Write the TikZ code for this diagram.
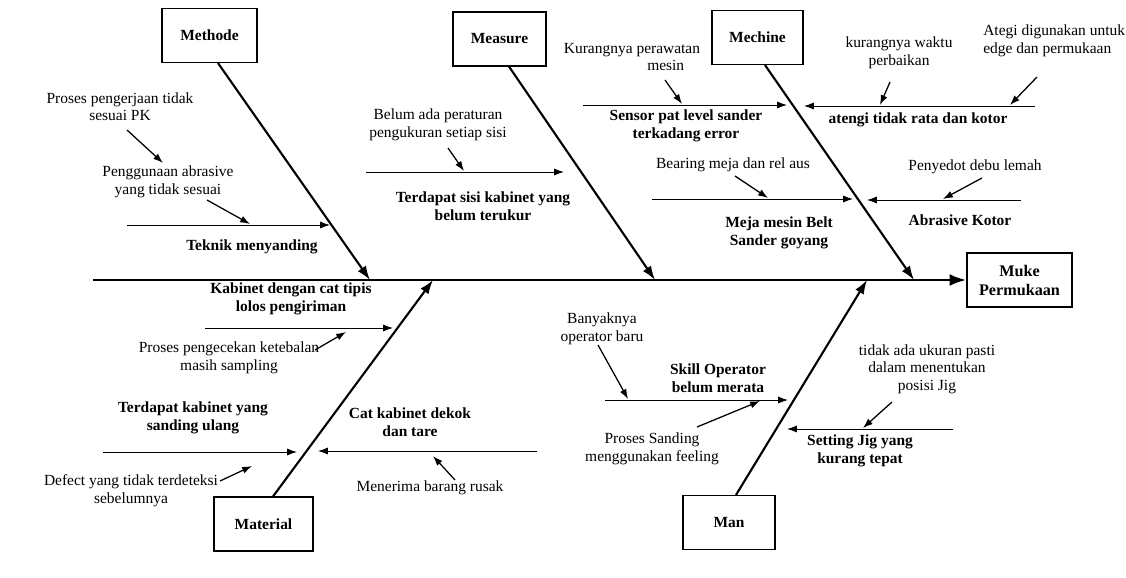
\documentclass[tikz,border=0pt]{standalone}
\usepackage{fontspec}
\setmainfont{Liberation Serif}
\usetikzlibrary{arrows.meta,calc}
\begin{document}
\begin{tikzpicture}[x=0.025cm,y=-0.025cm,
  box/.style={draw,line width=0.8pt,minimum width=#1,minimum height=1.35cm,
    font=\fontsize{11}{13}\selectfont\bfseries,align=center,inner sep=1pt},
  spine/.style={line width=2pt,-{Latex[length=12pt,width=8.5pt]}},
  bone/.style={line width=1.5pt,-{Latex[length=10pt,width=7pt]}},
  sub/.style={line width=0.7pt,-{Latex[length=7pt,width=5pt]}},
  cause/.style={line width=0.9pt,-{Latex[length=7pt,width=5pt]}},
  lbl/.style={font=\fontsize{11}{12.5}\selectfont,align=center,inner sep=0pt},
  blbl/.style={font=\fontsize{11}{12.5}\selectfont\bfseries,align=center,inner sep=0pt}]
\useasboundingbox (0,0) rectangle (1126,578);
\fill[white] (0,0) rectangle (1126,578);

% category boxes
\node[box=2.375cm] (methode) at (209.5,35.5) {Methode};
\node[box=2.325cm] (measure) at (499.5,39) {Measure};
\node[box=2.275cm] (mechine) at (757.5,37.5) {Mechine};
\node[box=2.475cm] (material) at (263.5,524) {Material};
\node[box=2.3cm] (man) at (729,522.5) {Man};
\node[box=2.625cm,font=\fontsize{11.5}{13.5}\selectfont\bfseries] (muke) at (1019.5,280) {Muke\\Permukaan};

% spine and joins
\coordinate (tail) at (93,280);
\coordinate (jMt) at (370,280);
\coordinate (jMs) at (655,280);
\coordinate (jMc) at (914,280);
\coordinate (jMa) at (433,280);
\coordinate (jMn) at (867,280);
\draw[spine] (tail) -- (muke.west);

% main bones
\draw[bone] ([xshift=0.2125cm]methode.south) -- (jMt);
\draw[bone] ([xshift=0.2375cm]measure.south) -- (jMs);
\draw[bone] ([xshift=0.1875cm]mechine.south) -- (jMc);
\draw[bone] ([xshift=0.2375cm]material.north) -- (jMa);
\draw[bone] ([xshift=0.175cm]man.north) -- (jMn);

% ---------- Methode ----------
\node[lbl] (t1) at (120,106.5) {Proses pengerjaan tidak\\sesuai PK};
\node[lbl] (t2) at (168,182) {Penggunaan abrasive\\yang tidak sesuai};
\node[blbl] (t3) at (252,247) {Teknik menyanding};
\coordinate (s1a) at (127,225); \coordinate (s1b) at (330,225);
\draw[sub] (s1a) -- (s1b);
\coordinate (c1a) at (127,130); \coordinate (c1b) at (163,163);
\draw[cause] (c1a) -- (c1b);
\coordinate (c2a) at (207,200); \coordinate (c2b) at (250,224);
\draw[cause] (c2a) -- (c2b);

% ---------- Measure ----------
\node[lbl] (t4) at (438,125) {Belum ada peraturan\\pengukuran setiap sisi};
\node[blbl] (t5) at (483,206) {Terdapat sisi kabinet yang\\belum terukur};
\coordinate (s2a) at (366,172); \coordinate (s2b) at (564,172);
\draw[sub] (s2a) -- (s2b);
\coordinate (c3a) at (448,148); \coordinate (c3b) at (464,171);
\draw[cause] (c3a) -- (c3b);

% ---------- Mechine ----------
\node[lbl] (t6) at (632,57) {Kurangnya perawatan\\\hspace*{48pt}mesin};
\node[blbl] (t7) at (686,126) {Sensor pat level sander\\terkadang error};
\node[lbl,align=left,anchor=west] (t8) at (983,41) {Ategi digunakan untuk\\edge dan permukaan};
\node[lbl] (t9) at (899,53) {kurangnya waktu\\perbaikan};
\node[blbl] (t10) at (918,120) {atengi tidak rata dan kotor};
\node[lbl] (t11) at (733,165) {Bearing meja dan rel aus};
\node[blbl] (t12) at (779,233) {Meja mesin Belt\\Sander goyang};
\node[lbl] (t13) at (975,167) {Penyedot debu lemah};
\node[blbl] (t14) at (960,220) {Abrasive Kotor};
\coordinate (s3a) at (583,105); \coordinate (s3b) at (787,105);
\draw[sub] (s3a) -- (s3b);
\coordinate (s4a) at (1035,106); \coordinate (s4b) at (804,106);
\draw[sub] (s4a) -- (s4b);
\coordinate (s5a) at (652,199); \coordinate (s5b) at (853,199);
\draw[sub] (s5a) -- (s5b);
\coordinate (s6a) at (1021,200); \coordinate (s6b) at (867,200);
\draw[sub] (s6a) -- (s6b);
\coordinate (c4a) at (665,80); \coordinate (c4b) at (682,104);
\draw[cause] (c4a) -- (c4b);
\coordinate (c5a) at (1037,77); \coordinate (c5b) at (1010,105);
\draw[cause] (c5a) -- (c5b);
\coordinate (c6a) at (890,82); \coordinate (c6b) at (880,105);
\draw[cause] (c6a) -- (c6b);
\coordinate (c7a) at (735,176); \coordinate (c7b) at (768,198);
\draw[cause] (c7a) -- (c7b);
\coordinate (c8a) at (982,178); \coordinate (c8b) at (943,199);
\draw[cause] (c8a) -- (c8b);

% ---------- Material ----------
\node[blbl] (t15) at (291,299) {Kabinet dengan cat tipis\\lolos pengiriman};
\node[lbl] (t16) at (229,358) {Proses pengecekan ketebalan\\masih sampling};
\node[blbl] (t17) at (193,418) {Terdapat kabinet yang\\sanding ulang};
\node[lbl] (t18) at (131,491) {Defect yang tidak terdeteksi\\sebelumnya};
\node[blbl] (t19) at (410,422) {Cat kabinet dekok\\dan tare};
\node[lbl] (t20) at (430,488) {Menerima barang rusak};
\coordinate (s7a) at (205,328); \coordinate (s7b) at (393,328);
\draw[sub] (s7a) -- (s7b);
\coordinate (s8a) at (103,452); \coordinate (s8b) at (297,452);
\draw[sub] (s8a) -- (s8b);
\coordinate (s9a) at (537,451); \coordinate (s9b) at (318,451);
\draw[sub] (s9a) -- (s9b);
\coordinate (c9a) at (315,350); \coordinate (c9b) at (346,332);
\draw[cause] (c9a) -- (c9b);
\coordinate (c10a) at (220,481); \coordinate (c10b) at (252,466);
\draw[cause] (c10a) -- (c10b);
\coordinate (c11a) at (455,480); \coordinate (c11b) at (433,456);
\draw[cause] (c11a) -- (c11b);

% ---------- Man ----------
\node[lbl] (t21) at (602,329) {Banyaknya\\operator baru};
\node[blbl] (t22) at (718,378) {Skill Operator\\belum merata};
\node[lbl] (t23) at (652,449) {Proses Sanding\\menggunakan feeling};
\node[lbl] (t24) at (927,369) {tidak ada ukuran pasti\\dalam menentukan\\posisi Jig};
\node[blbl] (t25) at (860,451) {Setting Jig yang\\kurang tepat};
\coordinate (s10a) at (605,400); \coordinate (s10b) at (788,400);
\draw[sub] (s10a) -- (s10b);
\coordinate (s11a) at (953,429); \coordinate (s11b) at (787,429);
\draw[sub] (s11a) -- (s11b);
\coordinate (c12a) at (598,345); \coordinate (c12b) at (628,399);
\draw[cause] (c12a) -- (c12b);
\coordinate (c13a) at (697,427); \coordinate (c13b) at (760,401);
\draw[cause] (c13a) -- (c13b);
\coordinate (c14a) at (892,402); \coordinate (c14b) at (863,428);
\draw[cause] (c14a) -- (c14b);
\end{tikzpicture}
\end{document}
